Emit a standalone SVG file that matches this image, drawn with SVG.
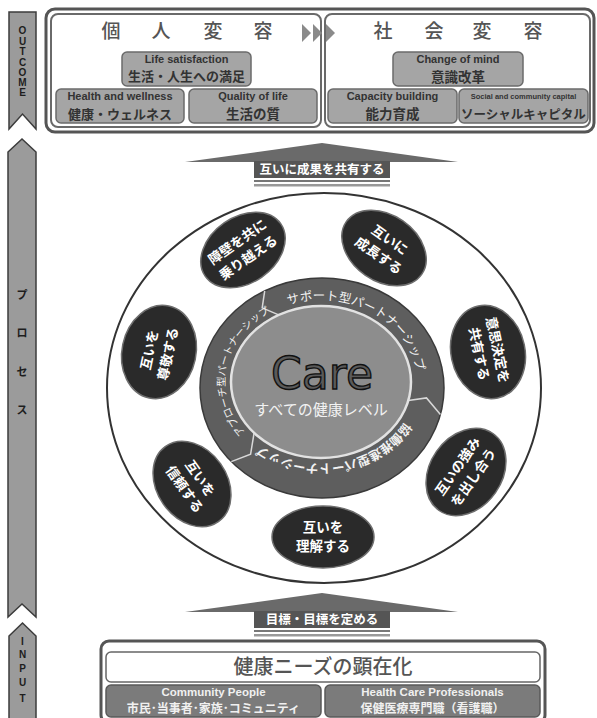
<svg xmlns="http://www.w3.org/2000/svg" xmlns:xlink="http://www.w3.org/1999/xlink" width="597" height="718" viewBox="0 0 597 718">
<style>
.bar{fill:#9b9b9b;stroke:#3c3c3c;stroke-width:1.5}
.barT{font-family:"Liberation Sans","Noto Sans CJK JP",sans-serif;font-weight:bold;fill:#1e1e1e;text-anchor:middle}
.panel{fill:#fff;stroke:#6a6a6a;stroke-width:2}
.gbox{fill:#a5a5a5;stroke:#6b6b6b;stroke-width:1.5}
.en{font-family:"Liberation Sans",sans-serif;font-weight:bold;fill:#333;text-anchor:middle}
.jp{font-family:"Noto Sans CJK JP",sans-serif;font-weight:bold;fill:#333;text-anchor:middle}
.title{font-family:"Noto Sans CJK JP",sans-serif;font-size:19px;font-weight:500;fill:#555;text-anchor:middle}
.tri{fill:#8a8a8a}
.oval{fill:#2a2a2a;stroke:#6e6e6e;stroke-width:1.5}
.ovT{font-family:"Noto Sans CJK JP",sans-serif;font-weight:bold;font-size:13.5px;fill:#fff;text-anchor:middle}
.ringT{font-family:"Noto Sans CJK JP",sans-serif;fill:#f2f2f2}
.arrowHead{fill:#6a6a6a}
.arrowBox{fill:#555}
.arrowT{font-family:"Noto Sans CJK JP",sans-serif;font-weight:bold;font-size:12.5px;fill:#fff;text-anchor:middle}
.sep{fill:none;stroke:#d8d8d8;stroke-width:1.5}
.dbox{fill:#7b7b7b;stroke:#5a5a5a;stroke-width:1.5}
.enW{font-family:"Liberation Sans",sans-serif;font-weight:bold;fill:#f0f0f0;text-anchor:middle}
.jpW{font-family:"Noto Sans CJK JP",sans-serif;font-weight:bold;fill:#f0f0f0;text-anchor:middle}
</style>
<defs>
<path id="pTop" d="M285,306 A96,82 0 0 1 416.8,376.3"/>
<path id="pLeft" d="M245.4,432.5 A96,82 0 0 1 278.9,308.3"/>
<path id="pBot" d="M405,421.8 A96,82 0 0 1 254.3,441"/>
</defs>
<rect width="597" height="718" fill="#fff"/>

<!-- left stage bars -->
<g id="bar-outcome">
<polygon class="bar" points="9,12 36,12 36,129 22.5,114 9,129"/>
<text class="barT" x="22.5" y="34" font-size="10">O</text>
<text class="barT" x="22.5" y="45" font-size="10">U</text>
<text class="barT" x="22.5" y="55" font-size="10">T</text>
<text class="barT" x="22.5" y="66" font-size="10">C</text>
<text class="barT" x="22.5" y="76" font-size="10">O</text>
<text class="barT" x="22.5" y="86" font-size="10">M</text>
<text class="barT" x="22.5" y="96" font-size="10">E</text>
</g>
<g id="bar-process">
<polygon class="bar" points="8,152 22,139 36,152 36,617 22,604 8,617"/>
<text class="barT" x="22" y="299" font-size="11">プ</text>
<text class="barT" x="22" y="337" font-size="11">ロ</text>
<text class="barT" x="22" y="376" font-size="11">セ</text>
<text class="barT" x="22" y="414" font-size="11">ス</text>
</g>
<g id="bar-input">
<polygon class="bar" points="9,636 22.5,623 36,636 36,720 9,720"/>
<text class="barT" x="22.5" y="645" font-size="10">I</text>
<text class="barT" x="22.5" y="658" font-size="10">N</text>
<text class="barT" x="22.5" y="672" font-size="10">P</text>
<text class="barT" x="22.5" y="686" font-size="10">U</text>
<text class="barT" x="22.5" y="702" font-size="10">T</text>
</g>

<!-- outcome box -->
<g id="outcome">
<rect x="46" y="9" width="548" height="123" rx="9" fill="#fff" stroke="#555" stroke-width="3"/>
<g id="individual-change">
<rect class="panel" x="51" y="14" width="270" height="113" rx="7"/>
<text class="title" x="111" y="38">個</text><text class="title" x="161" y="38">人</text><text class="title" x="213" y="38">変</text><text class="title" x="263" y="38">容</text>
</g>
<g id="social-change">
<rect class="panel" x="325" y="14" width="265" height="113" rx="7"/>
<text class="title" x="383" y="38">社</text><text class="title" x="434" y="38">会</text><text class="title" x="482" y="38">変</text><text class="title" x="533" y="38">容</text>
</g>
<g id="triangles">
<polygon class="tri" points="302,24 311,33 302,42"/>
<polygon class="tri" points="313,24 322,33 313,42"/>
<polygon class="tri" points="326,24 335,33 326,42"/>
</g>
<g id="life-satisfaction">
<rect class="gbox" x="122" y="52" width="129" height="34" rx="5"/>
<text class="en" x="186.5" y="63" font-size="11">Life satisfaction</text>
<text class="jp" x="186.5" y="81" font-size="13">生活・人生への満足</text>
</g>
<g id="health-wellness">
<rect class="gbox" x="56" y="89" width="128" height="34" rx="5"/>
<text class="en" x="120" y="100" font-size="11">Health and wellness</text>
<text class="jp" x="120" y="118.5" font-size="13">健康・ウェルネス</text>
</g>
<g id="quality-of-life">
<rect class="gbox" x="189" y="89" width="128" height="34" rx="5"/>
<text class="en" x="253" y="100" font-size="11">Quality of life</text>
<text class="jp" x="253" y="119" font-size="13.5">生活の質</text>
</g>
<g id="change-of-mind">
<rect class="gbox" x="393" y="52" width="130" height="34" rx="5"/>
<text class="en" x="458" y="63" font-size="11">Change of mind</text>
<text class="jp" x="458" y="81.5" font-size="13.5">意識改革</text>
</g>
<g id="capacity-building">
<rect class="gbox" x="328" y="89" width="129" height="34" rx="5"/>
<text class="en" x="392.5" y="100" font-size="11">Capacity building</text>
<text class="jp" x="392.5" y="119" font-size="13.5">能力育成</text>
</g>
<g id="social-capital">
<rect class="gbox" x="459" y="89" width="129" height="34" rx="5"/>
<text class="en" x="523.5" y="99" font-size="7.5">Social and community capital</text>
<text class="jp" x="523.5" y="118.5" font-size="12.5">ソーシャルキャピタル</text>
</g>
</g>

<!-- arrows -->
<g id="connectors">
<g id="arrow-share">
<polygon class="arrowHead" points="322,143 458,162 185,162"/>
<rect class="arrowBox" x="254" y="161" width="136" height="17"/>
<rect x="254" y="180" width="136" height="2" fill="#777"/>
<rect x="254" y="184" width="136" height="2.5" fill="#999"/>
<text class="arrowT" x="322" y="174">互いに成果を共有する</text>
</g>
<g id="arrow-goal">
<polygon class="arrowHead" points="322,593 458,612 185,612"/>
<rect class="arrowBox" x="254" y="611" width="136" height="17"/>
<rect x="254" y="630" width="136" height="2" fill="#777"/>
<rect x="254" y="634" width="136" height="2.5" fill="#999"/>
<text class="arrowT" x="322" y="624">目標・目標を定める</text>
</g>
</g>

<!-- process circle -->
<g id="process">
<ellipse cx="324" cy="388" rx="217" ry="195" fill="#fff" stroke="#333" stroke-width="2"/>
</g>

<g id="care">
<ellipse cx="322" cy="388" rx="122" ry="110" fill="#5e5e5e" stroke="#3a3a3a" stroke-width="1.5"/>
<polyline class="sep" points="264.7,290.9 262.2,307.9 278.7,314.9"/>
<polyline class="sep" points="440.4,414.6 426.5,397.9 408.3,400.4"/>
<polyline class="sep" points="231.3,461.6 250.6,454.1 254.1,432.9"/>
<ellipse cx="321" cy="382" rx="90" ry="76" fill="#8d8d8d" stroke="#e2e2e2" stroke-width="2.5"/>
<g id="support-partnership" class="ringT" font-size="12.5">
<text><textPath href="#pTop" startOffset="3.5">サポート型パート</textPath></text>
<text><textPath href="#pTop" startOffset="103.5">ナーシップ</textPath></text>
</g>
<g id="approach-partnership" class="ringT" font-size="10.2">
<text><textPath href="#pLeft" startOffset="0">アプローチ</textPath></text>
<text><textPath href="#pLeft" startOffset="51">型パートナーシップ</textPath></text>
</g>
<g id="collab-partnership" class="ringT" font-size="12.5" font-weight="bold">
<text><textPath href="#pBot" startOffset="0">協働推進型パートナーシップ</textPath></text>
</g>
<text x="322" y="389" font-family="DejaVu Sans,sans-serif" font-size="44" fill="#5a5a5a" stroke="#111" stroke-width="1.4" text-anchor="middle" textLength="102" lengthAdjust="spacingAndGlyphs">Care</text>
<text x="321" y="415" font-family="Noto Sans CJK JP,sans-serif" font-size="15" fill="#f2f2f2" text-anchor="middle">すべての健康レベル</text>
</g>

<g id="overcome-barriers" transform="translate(243,250) rotate(-35)">
<ellipse class="oval" rx="46" ry="33"/>
<text class="ovT" y="-5">障壁を共に</text><text class="ovT" y="14">乗り越える</text>
</g>
<g id="grow-together" transform="translate(384,248) rotate(35)">
<ellipse class="oval" rx="46" ry="33"/>
<text class="ovT" y="-5">互いに</text><text class="ovT" y="14">成長する</text>
</g>
<g id="share-decisions" transform="translate(488,352) rotate(78)">
<ellipse class="oval" rx="47" ry="37"/>
<text class="ovT" y="-5">意思決定を</text><text class="ovT" y="14">共有する</text>
</g>
<g id="share-strengths" transform="translate(466,472) rotate(-55)">
<ellipse class="oval" rx="47" ry="36"/>
<text class="ovT" y="-5">互いの強み</text><text class="ovT" y="14">を出し合う</text>
</g>
<g id="understand" transform="translate(323,537)">
<ellipse class="oval" rx="51" ry="31"/>
<text class="ovT" y="-5">互いを</text><text class="ovT" y="14">理解する</text>
</g>
<g id="trust" transform="translate(192,484) rotate(55)">
<ellipse class="oval" rx="46" ry="35"/>
<text class="ovT" y="-5">互いを</text><text class="ovT" y="14">信頼する</text>
</g>
<g id="respect" transform="translate(159,352) rotate(-78)">
<ellipse class="oval" rx="47" ry="37"/>
<text class="ovT" y="-5">互いを</text><text class="ovT" y="14">尊敬する</text>
</g>

<!-- input box -->
<g id="input">
<rect x="101" y="641" width="444" height="82" rx="8" fill="#fff" stroke="#555" stroke-width="3"/>
<g id="health-needs">
<rect x="106" y="652" width="434" height="30" rx="5" fill="#fff" stroke="#666" stroke-width="1.5"/>
<text x="323" y="674" font-family="Noto Sans CJK JP,sans-serif" font-size="20" font-weight="500" fill="#555" text-anchor="middle">健康ニーズの顕在化</text>
</g>
<g id="community-people">
<rect class="dbox" x="106" y="685" width="215" height="32" rx="5"/>
<text class="enW" x="213.5" y="696" font-size="11.5">Community People</text>
<text class="jpW" x="213.5" y="713" font-size="12">市民･当事者･家族･コミュニティ</text>
</g>
<g id="health-professionals">
<rect class="dbox" x="325" y="685" width="215" height="32" rx="5"/>
<text class="enW" x="432.5" y="696" font-size="11.5">Health Care Professionals</text>
<text class="jpW" x="432.5" y="713" font-size="12">保健医療専門職（看護職）</text>
</g>
</g>
</svg>
